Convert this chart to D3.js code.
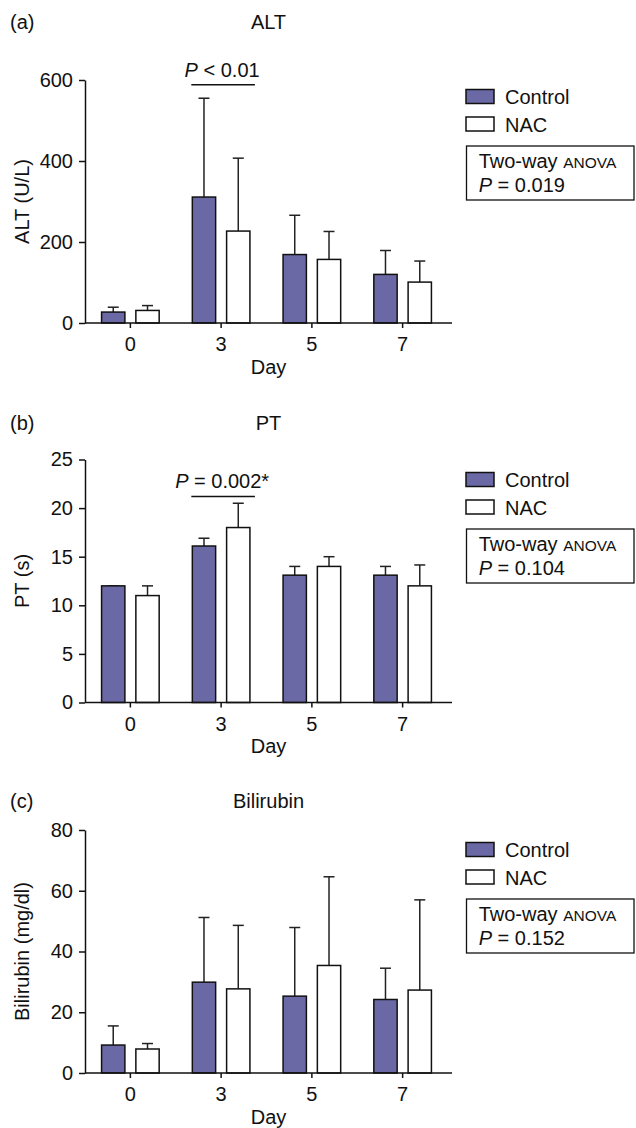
<!DOCTYPE html>
<html>
<head>
<meta charset="utf-8">
<script src="https://cdn.jsdelivr.net/npm/d3@7"></script>
<style>
  body { margin: 0; background: #fff; }
  text { font-family: "Liberation Sans", Arial, Helvetica, sans-serif; fill: #111; }
</style>
</head>
<body>
<div id="chart"></div>
<script>
// data (mean and upper SD)
var days = ["0", "3", "5", "7"];
var groups = ["Control", "NAC"];

var altControl = [27, 311, 169, 120];
var altControlSd = [12, 244, 97, 59];
var altNac = [31, 227, 157, 101];
var altNacSd = [12, 180, 69, 52];
var altTicks = [0, 200, 400, 600];

var ptControl = [12, 16.1, 13.1, 13.1];
var ptControlSd = [0, 0.8, 0.9, 0.9];
var ptNac = [11, 18, 14, 12];
var ptNacSd = [1, 2.5, 1, 2.15];
var ptTicks = [0, 5, 10, 15, 20, 25];

var biliControl = [9.2, 29.9, 25.3, 24.2];
var biliControlSd = [6.3, 21.3, 22.6, 10.3];
var biliNac = [7.9, 27.7, 35.4, 27.3];
var biliNacSd = [1.8, 20.9, 29.2, 29.7];
var biliTicks = [0, 20, 40, 60, 80];

var anovaP = ["0.019", "0.104", "0.152"];

function init() {
    var w = 636;
    var h = 1128;
    var plotH = 243;
    var left = 85;
    var axisEnd = 452;
    var purple = "#6b69a5";

    var svg = d3.select("#chart")
        .append("svg")
        .attr("width", w)
        .attr("height", h);

    svg.append("rect").attr("width", w).attr("height", h).attr("fill", "#fff");

    var panels = [
        { tag: "(a)", title: "ALT", ylabel: "ALT (U/L)", top: 80, titleY: 29, legendTop: 89.5,
          ymax: 600, ticks: altTicks, ctrl: altControl, ctrlSd: altControlSd, nac: altNac, nacSd: altNacSd,
          p: anovaP[0], sig: { day: "3", value: 588, sign: " < 0.01" } },
        { tag: "(b)", title: "PT", ylabel: "PT (s)", top: 459.5, titleY: 430, legendTop: 472.5,
          ymax: 25, ticks: ptTicks, ctrl: ptControl, ctrlSd: ptControlSd, nac: ptNac, nacSd: ptNacSd,
          p: anovaP[1], sig: { day: "3", value: 21.2, sign: " = 0.002*" } },
        { tag: "(c)", title: "Bilirubin", ylabel: "Bilirubin (mg/dl)", top: 830, titleY: 808, legendTop: 842.5,
          ymax: 80, ticks: biliTicks, ctrl: biliControl, ctrlSd: biliControlSd, nac: biliNac, nacSd: biliNacSd,
          p: anovaP[2], sig: null }
    ];

    var x0 = d3.scaleBand()
        .domain(days)
        .range([left, 448]);

    var half = 28.8;
    var x1 = d3.scaleBand()
        .domain(groups)
        .range([x0.bandwidth() / 2 - half, x0.bandwidth() / 2 + half])
        .paddingInner(0.32);

    var color = d3.scaleOrdinal().domain(groups).range([purple, "#fff"]);

    panels.forEach(function(p) {
        var g = svg.append("g").attr("transform", "translate(0," + p.top + ")");

        var yScale = d3.scaleLinear()
            .domain([0, p.ymax])
            .range([plotH, 0]);

        var rows = days.map(function(d, i) {
            return { day: d, values: [
                { group: "Control", v: p.ctrl[i], sd: p.ctrlSd[i] },
                { group: "NAC", v: p.nac[i], sd: p.nacSd[i] }
            ] };
        });

        var dayG = g.selectAll(".day")
            .data(rows)
            .enter().append("g")
            .attr("class", "day")
            .attr("transform", function(d) { return "translate(" + x0(d.day) + ",0)"; });

        var bar = dayG.selectAll(".bar")
            .data(function(d) { return d.values; })
            .enter().append("g")
            .attr("class", "bar");

        // error bars (upper only)
        bar.append("line")
            .attr("x1", function(d) { return x1(d.group) + x1.bandwidth() / 2; })
            .attr("x2", function(d) { return x1(d.group) + x1.bandwidth() / 2; })
            .attr("y1", function(d) { return yScale(d.v); })
            .attr("y2", function(d) { return yScale(d.v + d.sd); })
            .attr("stroke", "#222")
            .attr("stroke-width", 1.5);

        bar.append("line")
            .attr("x1", function(d) { return x1(d.group) + x1.bandwidth() / 2 - 5.5; })
            .attr("x2", function(d) { return x1(d.group) + x1.bandwidth() / 2 + 5.5; })
            .attr("y1", function(d) { return yScale(d.v + d.sd); })
            .attr("y2", function(d) { return yScale(d.v + d.sd); })
            .attr("stroke", "#222")
            .attr("stroke-width", 1.5);

        bar.append("rect")
            .attr("x", function(d) { return x1(d.group); })
            .attr("y", function(d) { return yScale(d.v); })
            .attr("width", x1.bandwidth())
            .attr("height", function(d) { return plotH - yScale(d.v); })
            .attr("fill", function(d) { return color(d.group); })
            .attr("stroke", "#111")
            .attr("stroke-width", 1.5);

        // y axis
        var yAxis = g.append("g")
            .attr("transform", "translate(" + left + ",0)")
            .call(d3.axisLeft(yScale).tickValues(p.ticks).tickSize(6).tickSizeOuter(0).tickPadding(6));
        yAxis.attr("font-size", 20).attr("font-family", null);
        yAxis.selectAll("path, line").attr("stroke", "#111").attr("stroke-width", 1.5);
        yAxis.selectAll("text").attr("fill", "#111");

        // x axis
        var xAxis = g.append("g")
            .attr("transform", "translate(0," + plotH + ")")
            .call(d3.axisBottom(x0).tickSize(5).tickSizeOuter(0).tickPadding(9));
        xAxis.attr("font-size", 20).attr("font-family", null);
        xAxis.select(".domain").attr("d", "M" + left + ",0H" + axisEnd);
        xAxis.selectAll("path, line").attr("stroke", "#111").attr("stroke-width", 1.5);
        xAxis.selectAll("text").attr("fill", "#111");

        g.append("text")
            .attr("x", (left + axisEnd) / 2)
            .attr("y", plotH + 50.5)
            .attr("text-anchor", "middle")
            .attr("font-size", 20)
            .text("Day");

        g.append("text")
            .attr("transform", "rotate(-90)")
            .attr("x", -plotH / 2)
            .attr("y", 29)
            .attr("text-anchor", "middle")
            .attr("font-size", 20)
            .text(p.ylabel);

        // title and panel tag
        g.append("text")
            .attr("x", (left + axisEnd) / 2)
            .attr("y", p.titleY - p.top)
            .attr("text-anchor", "middle")
            .attr("font-size", 20)
            .text(p.title);

        g.append("text")
            .attr("x", 10)
            .attr("y", p.titleY - p.top)
            .attr("font-size", 20)
            .text(p.tag);

        // significance bracket
        if (p.sig) {
            var gx = x0(p.sig.day);
            var sy = yScale(p.sig.value);
            g.append("line")
                .attr("x1", gx + x1("Control") - 1)
                .attr("x2", gx + x1("NAC") + x1.bandwidth() + 5)
                .attr("y1", sy)
                .attr("y2", sy)
                .attr("stroke", "#111")
                .attr("stroke-width", 1.5);
            var st = g.append("text")
                .attr("x", gx + x0.bandwidth() / 2 + 1)
                .attr("y", sy - 8)
                .attr("text-anchor", "middle")
                .attr("font-size", 20);
            st.append("tspan").attr("font-style", "italic").text("P");
            st.append("tspan").text(p.sig.sign);
        }

        // legend
        var lg = svg.append("g").attr("transform", "translate(466," + p.legendTop + ")");
        groups.forEach(function(name, i) {
            lg.append("rect")
                .attr("x", 0)
                .attr("y", i * 27.5)
                .attr("width", 28)
                .attr("height", 14)
                .attr("fill", color(name))
                .attr("stroke", "#111")
                .attr("stroke-width", 1.5);
            lg.append("text")
                .attr("x", 39)
                .attr("y", i * 27.5 + 14.8)
                .attr("font-size", 20)
                .text(name);
        });

        lg.append("rect")
            .attr("x", 0.5)
            .attr("y", 56.5)
            .attr("width", 167.5)
            .attr("height", 54)
            .attr("fill", "#fff")
            .attr("stroke", "#111")
            .attr("stroke-width", 1.3);

        var t1 = lg.append("text")
            .attr("x", 12.7)
            .attr("y", 56.5 + 21.7)
            .attr("font-size", 20);
        t1.append("tspan").text("Two-way ");
        t1.append("tspan").attr("font-size", 15.5).text("ANOVA");

        var t2 = lg.append("text")
            .attr("x", 12.7)
            .attr("y", 56.5 + 45.7)
            .attr("font-size", 20);
        t2.append("tspan").attr("font-style", "italic").text("P");
        t2.append("tspan").text(" = " + p.p);
    });
}
window.onload = init;
</script>
</body>
</html>
